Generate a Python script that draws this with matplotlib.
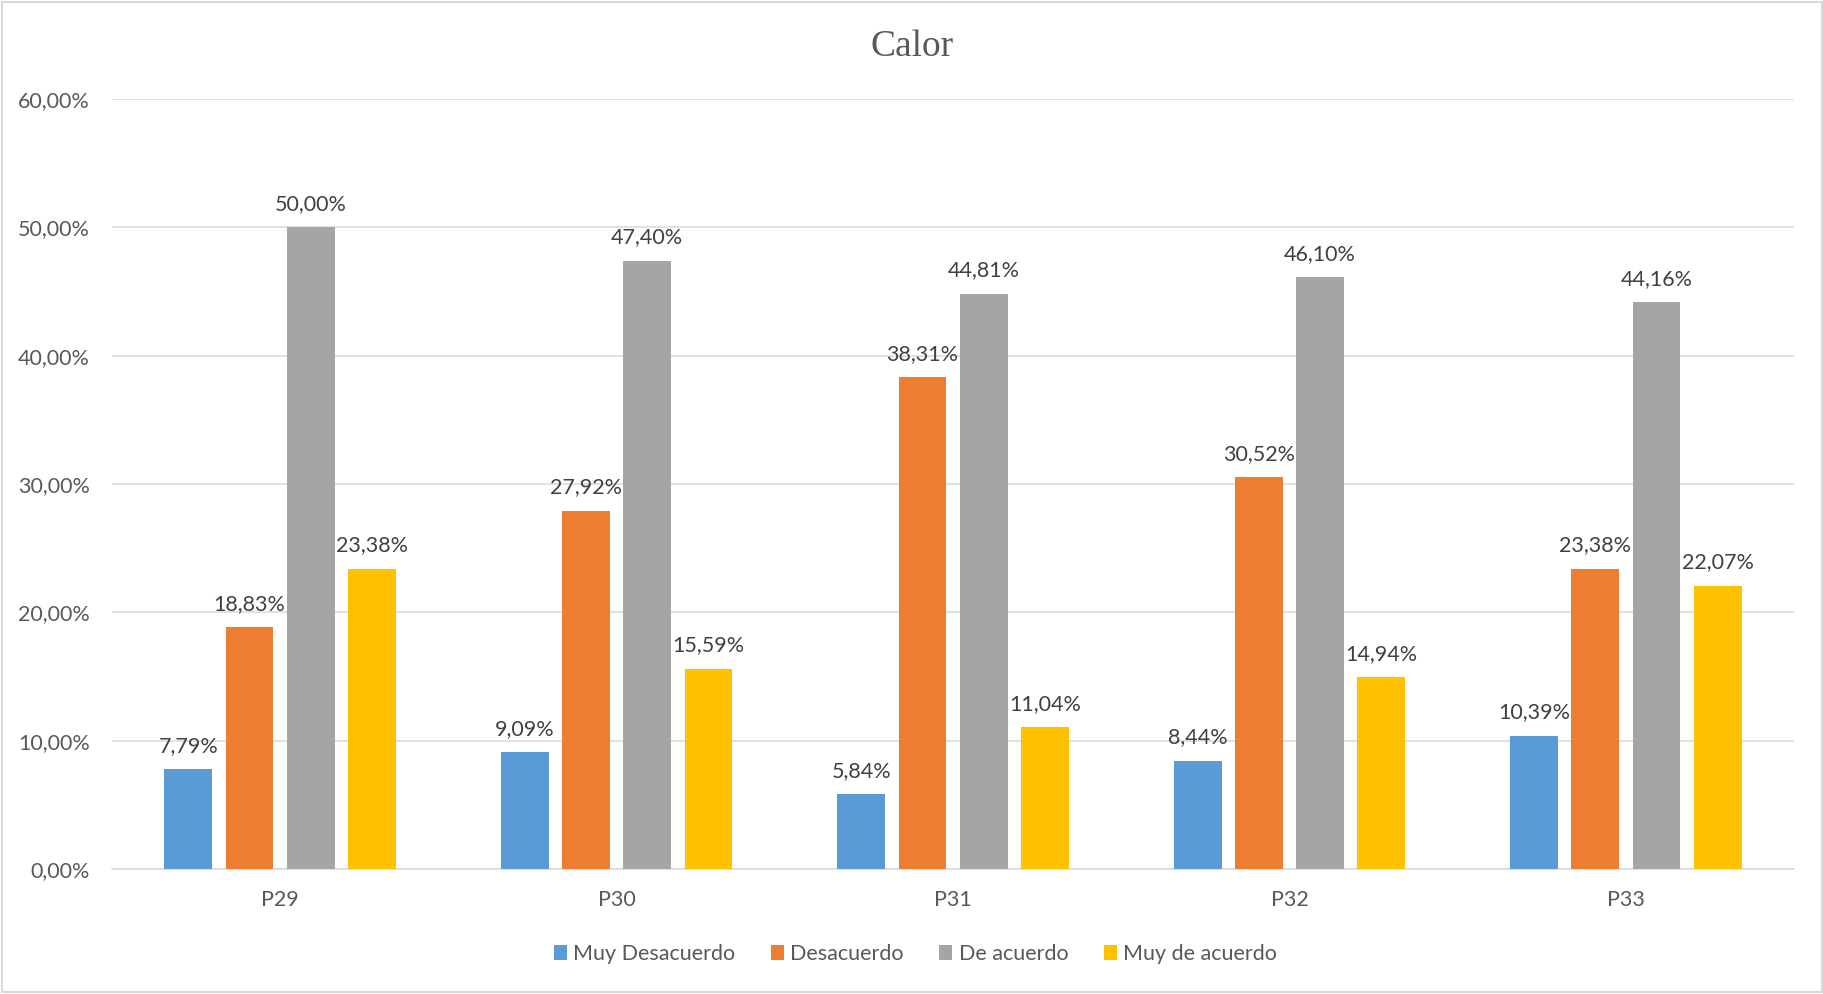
import numpy as np
import matplotlib.pyplot as plt
from matplotlib.patches import Rectangle

categories = ['P29', 'P30', 'P31', 'P32', 'P33']
series_names = ['Muy Desacuerdo', 'Desacuerdo', 'De acuerdo', 'Muy de acuerdo']
muy_desacuerdo = [7.79, 9.09, 5.84, 8.44, 10.39]
desacuerdo = [18.83, 27.92, 38.31, 30.52, 23.38]
de_acuerdo = [50.00, 47.40, 44.81, 46.10, 44.16]
muy_de_acuerdo = [23.38, 15.59, 11.04, 14.94, 22.07]
yticks = [0, 10, 20, 30, 40, 50, 60]

colors = ['#5B9BD5', '#ED7D31', '#A5A5A5', '#FFC000']
values = [muy_desacuerdo, desacuerdo, de_acuerdo, muy_de_acuerdo]

plt.rcParams['font.family'] = ['Lato', 'DejaVu Sans']


def pct(v):
    return f'{v:.2f}'.replace('.', ',') + '%'


fig = plt.figure(figsize=(18.24, 9.94), dpi=100)
ax = fig.add_axes([0.0614, 0.1258, 0.9222, 0.7746])

x = np.arange(len(categories))
width = 0.142
pitch = 0.182
for i, (name, vals, c) in enumerate(zip(series_names, values, colors)):
    pos = x + (i - 1.5) * pitch
    bars = ax.bar(pos, vals, width, color=c, label=name, zorder=3)
    for b, v in zip(bars, vals):
        ax.annotate(pct(v), (b.get_x() + b.get_width() / 2, v),
                    xytext=(0, 12.5), textcoords='offset points',
                    ha='center', va='baseline', fontsize=15.5, color='#404040')

ax.set_xlim(-0.5, len(categories) - 0.5)
ax.set_ylim(0, 60)
ax.set_yticks(yticks)
ax.set_yticklabels([pct(v) for v in yticks])
ax.set_xticks(x)
ax.set_xticklabels(categories)
ax.tick_params(axis='both', length=0, labelsize=15.5, labelcolor='#595959')
ax.tick_params(axis='y', pad=16)
ax.tick_params(axis='x', pad=15.5)
ax.grid(axis='y', color='#D9D9D9', linewidth=1.1, zorder=0)
for s in ['top', 'right', 'left']:
    ax.spines[s].set_visible(False)
ax.spines['bottom'].set_color('#D9D9D9')
ax.spines['bottom'].set_linewidth(1.1)

fig.text(0.5, 1 - 47 / 994, 'Calor', ha='center', va='center',
         fontsize=27, color='#595959', family=['Liberation Serif', 'DejaVu Serif'])

fig.legend(loc='center', bbox_to_anchor=(0.502, 0.04), ncol=4, frameon=False,
           fontsize=15.5, labelcolor='#595959', handlelength=0.6, handleheight=0.7,
           handletextpad=0.3, columnspacing=1.65)

# chart border
fig.patches.append(Rectangle((0.001, 0.002), 0.998, 0.996, transform=fig.transFigure,
                             fill=False, edgecolor='#D9D9D9', linewidth=1.5))

fig.savefig('out.png', dpi=100, facecolor='white')
